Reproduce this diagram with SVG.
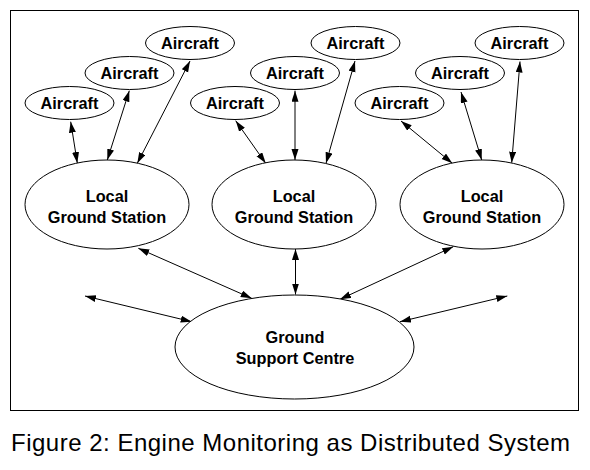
<svg xmlns="http://www.w3.org/2000/svg" width="590" height="470" viewBox="0 0 590 470">
<style>
.n ellipse{fill:#fff;stroke:#000;stroke-width:1}
.t{font-family:"Liberation Sans",Arial,sans-serif;font-size:16.3px;font-weight:bold;fill:#000;text-anchor:middle}
.c line{stroke:#000;stroke-width:1;marker-start:url(#ah);marker-end:url(#ah)}
</style>
<defs>
<marker id="ah" markerUnits="userSpaceOnUse" markerWidth="12" markerHeight="8" refX="11" refY="3.5" orient="auto-start-reverse" viewBox="0 0 12 8">
<path d="M0,0 L11,3.5 L0,7 z" fill="#000"/>
</marker>
</defs>
<rect x="0" y="0" width="590" height="470" fill="#fff"/>
<rect x="10.5" y="10.5" width="568" height="400" fill="none" stroke="#000" stroke-width="1"/>
<g class="c" id="connectors">
<line x1="70.7" y1="121.7" x2="77.3" y2="163"/>
<line x1="129.3" y1="90.7" x2="107.3" y2="160"/>
<line x1="190" y1="61" x2="137.3" y2="163.3"/>
<line x1="235.7" y1="120.7" x2="265.7" y2="163.3"/>
<line x1="295" y1="90.7" x2="295" y2="160"/>
<line x1="355" y1="61" x2="326" y2="163.3"/>
<line x1="401" y1="121" x2="452.3" y2="163.3"/>
<line x1="461" y1="92" x2="481.7" y2="160"/>
<line x1="520" y1="61.5" x2="511.7" y2="162.7"/>
<line x1="138.3" y1="248.3" x2="251.7" y2="298.3"/>
<line x1="295.5" y1="249" x2="295.5" y2="294.5"/>
<line x1="453.3" y1="246.7" x2="340" y2="299.3"/>
<line x1="85" y1="296" x2="191.7" y2="321.7"/>
<line x1="507.3" y1="296" x2="400" y2="321.7"/>
</g>
<g class="n" id="aircraft1"><ellipse cx="69.5" cy="103" rx="44.5" ry="16.5"/><text class="t" x="69.5" y="108.5">Aircraft</text></g>
<g class="n" id="aircraft2"><ellipse cx="129.5" cy="73" rx="44.5" ry="16.5"/><text class="t" x="129.5" y="78.5">Aircraft</text></g>
<g class="n" id="aircraft3"><ellipse cx="190" cy="43" rx="44.5" ry="16.5"/><text class="t" x="190" y="48.5">Aircraft</text></g>
<g class="n" id="aircraft4"><ellipse cx="235" cy="103" rx="44.5" ry="16.5"/><text class="t" x="235" y="108.5">Aircraft</text></g>
<g class="n" id="aircraft5"><ellipse cx="295" cy="73" rx="44.5" ry="16.5"/><text class="t" x="295" y="78.5">Aircraft</text></g>
<g class="n" id="aircraft6"><ellipse cx="355.5" cy="43" rx="44.5" ry="16.5"/><text class="t" x="355.5" y="48.5">Aircraft</text></g>
<g class="n" id="aircraft7"><ellipse cx="399.5" cy="103" rx="44.5" ry="16.5"/><text class="t" x="399.5" y="108.5">Aircraft</text></g>
<g class="n" id="aircraft8"><ellipse cx="460" cy="73" rx="44.5" ry="16.5"/><text class="t" x="460" y="78.5">Aircraft</text></g>
<g class="n" id="aircraft9"><ellipse cx="519.5" cy="43" rx="44.5" ry="16.5"/><text class="t" x="519.5" y="48.5">Aircraft</text></g>
<g class="n" id="lgs1"><ellipse cx="107" cy="204.5" rx="82" ry="44.5"/><text class="t" x="107" y="201.5">Local</text><text class="t" x="107" y="222.5">Ground Station</text></g>
<g class="n" id="lgs2"><ellipse cx="294" cy="204.5" rx="82" ry="44.5"/><text class="t" x="294" y="201.5">Local</text><text class="t" x="294" y="222.5">Ground Station</text></g>
<g class="n" id="lgs3"><ellipse cx="482" cy="204.5" rx="82" ry="44.5"/><text class="t" x="482" y="201.5">Local</text><text class="t" x="482" y="222.5">Ground Station</text></g>
<g class="n" id="gsc"><ellipse cx="294.5" cy="347" rx="119.5" ry="52"/><text class="t" x="295" y="342.5">Ground</text><text class="t" x="295" y="363.5">Support Centre</text></g>
<text x="11" y="451" font-family="'Liberation Sans',Arial,sans-serif" font-size="24" textLength="559" lengthAdjust="spacing" fill="#000">Figure 2: Engine Monitoring as Distributed System</text>
</svg>
